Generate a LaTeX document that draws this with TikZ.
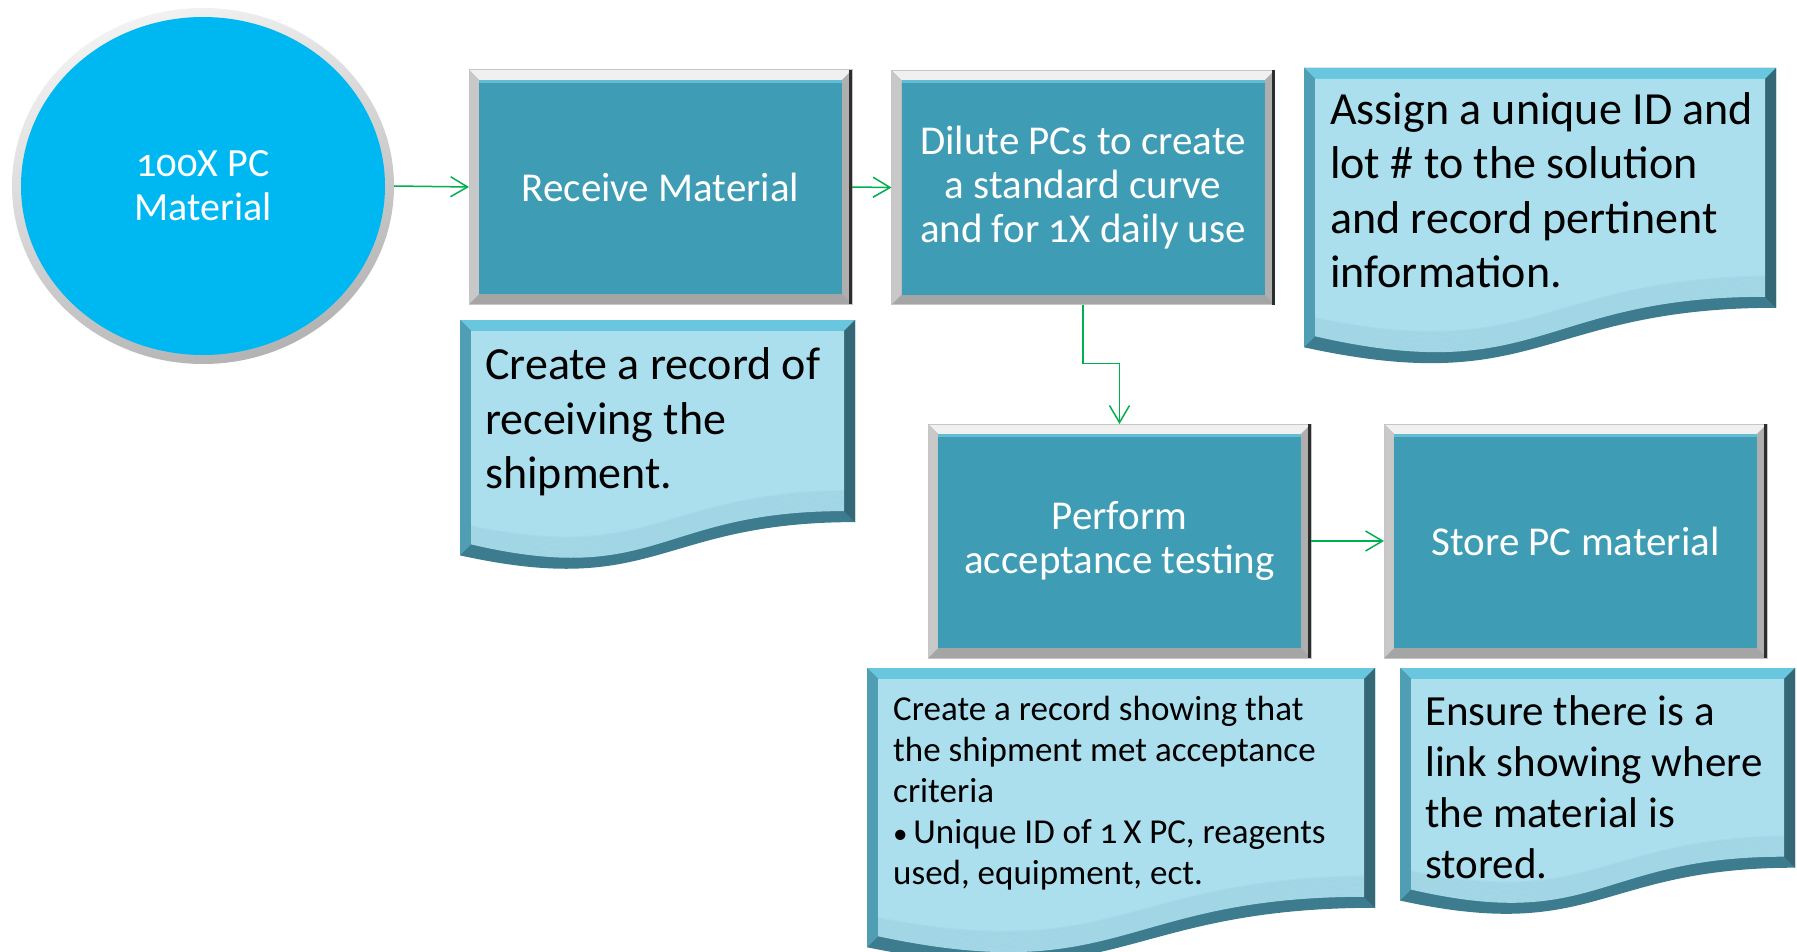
\documentclass[tikz,border=0pt]{standalone}
\usepackage{fontspec}
\setmainfont{Carlito}[Numbers=OldStyle]
\usetikzlibrary{arrows.meta,shapes.geometric,backgrounds,calc}

\definecolor{procteal}{RGB}{63,156,181}
\definecolor{proctop}{RGB}{100,188,210}
\definecolor{pcblue}{RGB}{0,184,241}
\definecolor{docfill}{RGB}{171,223,238}
\definecolor{doctop}{RGB}{104,198,222}
\definecolor{docleft}{RGB}{80,158,180}
\definecolor{docright}{RGB}{52,104,118}
\definecolor{docbottom}{RGB}{60,124,142}
\definecolor{flowgreen}{RGB}{0,176,80}
\definecolor{frametop}{RGB}{240,240,240}
\definecolor{frameleft}{RGB}{200,200,200}
\definecolor{frameright}{RGB}{175,175,175}
\definecolor{framebot}{RGB}{165,165,165}
\definecolor{framedark}{RGB}{45,45,45}

% document-style panel with a wavy bottom edge: left, top, width, height
\newcommand\docpanel[4]{%
  \def\dd{11}%
  \fill[docbottom] (#1,#2) -- (#1+#3,#2) -- (#1+#3,#2+0.802*#4)
     .. controls (#1+0.5*#3,#2+0.802*#4) and (#1+0.5*#3,#2+1.107*#4) .. (#1,#2+0.934*#4) -- cycle;
  \fill[doctop] (#1,#2) -- (#1+#3,#2) -- (#1+#3-\dd,#2+\dd) -- (#1+\dd,#2+\dd) -- cycle;
  \fill[docleft] (#1,#2) -- (#1+\dd,#2+\dd) -- (#1+\dd,#2+0.934*#4-\dd) -- (#1,#2+0.934*#4) -- cycle;
  \fill[docright] (#1+#3,#2) -- (#1+#3,#2+0.802*#4) -- (#1+#3-\dd,#2+0.802*#4-\dd) -- (#1+#3-\dd,#2+\dd) -- cycle;
  \begin{scope}
    \path[clip] (#1+\dd,#2+\dd) -- (#1+#3-\dd,#2+\dd) -- (#1+#3-\dd,#2+0.802*#4-\dd)
       .. controls (#1+0.5*#3,#2+0.802*#4-\dd) and (#1+0.5*#3,#2+1.107*#4-\dd) .. (#1+\dd,#2+0.934*#4-\dd) -- cycle;
    \fill[docfill] (#1,#2) rectangle (#1+#3,#2+1.2*#4);
    % soft shadow along the wavy lower edge
    \foreach \k in {0,...,17}{
      \draw[docbottom, line width=2pt, opacity=0.045]
        (#1+#3,#2+0.802*#4-\dd-1.2*\k)
        .. controls (#1+0.5*#3,#2+0.802*#4-\dd-1.2*\k) and (#1+0.5*#3,#2+1.107*#4-\dd-1.2*\k) .. (#1,#2+0.934*#4-\dd-1.2*\k);
    }
  \end{scope}
}

% bevelled frame and teal face behind a process node
\newcommand\procframe[1]{%
  \fill[framebot] (#1.north west) rectangle (#1.south east);
  \fill[frametop] (#1.north west) -- (#1.north east) -- ($(#1.north east)+(-10,10)$) -- ($(#1.north west)+(10,10)$) -- cycle;
  \fill[frameleft] (#1.north west) -- ($(#1.north west)+(10,10)$) -- ($(#1.south west)+(10,-10)$) -- (#1.south west) -- cycle;
  \fill[frameright] (#1.north east) -- (#1.south east) -- ($(#1.south east)+(-10,-10)$) -- ($(#1.north east)+(-10,10)$) -- cycle;
  \fill[procteal] ($(#1.north west)+(10,10)$) rectangle ($(#1.south east)+(-10,-10)$);
  \fill[proctop] ($(#1.north west)+(10,10)$) rectangle ($(#1.north east)+(-10,13)$);
  \draw[gray!45, line width=1pt] (#1.north west) rectangle (#1.south east);
  \draw[framedark, line width=3pt] ($(#1.north east)+(-1.5,0)$) -- ($(#1.south east)+(-1.5,0)$);
}

\tikzset{
  proc/.style={rectangle, minimum width=383pt, minimum height=234pt, inner sep=0pt, outer sep=0pt,
    text=white, align=center, font=\fontsize{41}{44}\selectfont},
  doctext/.style={anchor=west, inner sep=0pt, align=left, text=black},
  flow/.style={draw=flowgreen, line width=1.5pt, -{Straight Barb[length=17pt,width=20pt]}},
}

\begin{document}
\begin{tikzpicture}[x=1pt,y=-1pt]
\begin{pgfonlayer}{background}
  \fill[white] (0,0) rectangle (1797,952);
\end{pgfonlayer}
\useasboundingbox (0,0) rectangle (1797,952);

% start node
\node[ellipse, minimum width=382pt, minimum height=356pt, inner sep=0pt, outer sep=0pt,
      text=white, align=center, font=\fontsize{40}{44}\selectfont] (pc) at (203,186) {100X PC\\Material};

% process steps
\node[proc] (recv)  at (660.5,187)  {Receive Material};
\node[proc] (dil)   at (1083,187.5) {Dilute PCs to create\\a standard curve\\and for 1X daily use};
\node[proc] (perf)  at (1119.5,541) {Perform\\acceptance testing};
\node[proc] (store) at (1575.5,541) {Store PC material};

\begin{pgfonlayer}{background}
  \shade[top color=gray!10, bottom color=gray!60, shading angle=20] (pc.center) ellipse [x radius=191, y radius=178];
  \fill[pcblue] (pc.center) ellipse [x radius=182, y radius=169];
  \procframe{recv}
  \procframe{dil}
  \procframe{perf}
  \procframe{store}
\end{pgfonlayer}

% record notes
\docpanel{460}{320}{395}{252}
\docpanel{1304}{68}{472}{299}
\docpanel{867}{668}{508}{299}
\docpanel{1400}{668}{395}{249}

\node[doctext, font=\fontsize{46}{54.5}\selectfont] (rec1) at (485,422)
  {Create a record of\\receiving the\\shipment.};
\node[doctext, font=\fontsize{46}{54.5}\selectfont] (assign) at (1330,190)
  {Assign a unique ID and\\lot \# to the solution\\and record pertinent\\information.};
\node[doctext, font=\fontsize{35}{41}\selectfont] (accrec) at (893,793)
  {Create a record showing that\\the shipment met acceptance\\criteria\\{\fontsize{29}{41}\selectfont•}\,Unique ID of 1\,X PC, reagents\\used, equipment, ect.};
\node[doctext, font=\fontsize{43}{51}\selectfont] (ensure) at (1425,787)
  {Ensure there is a\\link showing where\\the material is\\stored.};

% connectors
\draw[flow] (pc.east) -- (recv.west);
\draw[flow] (recv.east) -- (dil.west);
\draw[flow] (dil.south) -- ++(0,59) -| (perf.north);
\draw[flow] (perf.east) -- (store.west);
\end{tikzpicture}
\end{document}
